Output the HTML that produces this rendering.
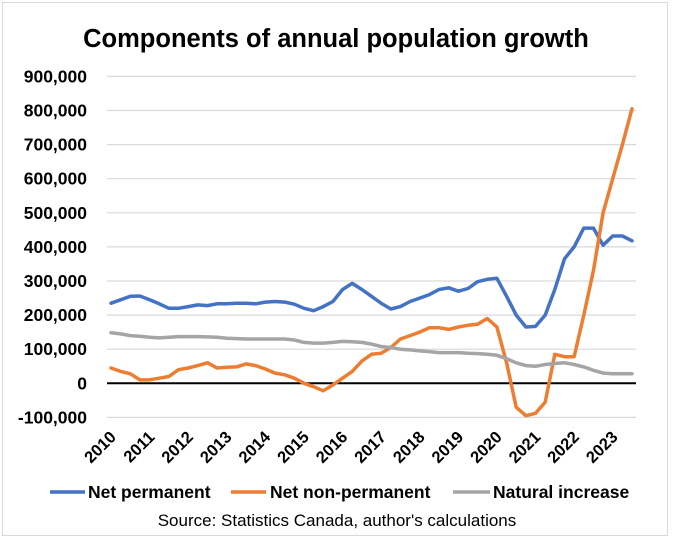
<!DOCTYPE html>
<html><head><meta charset="utf-8">
<style>
html,body{margin:0;padding:0;background:#fff;}
body{width:675px;height:543px;overflow:hidden;position:relative;font-family:"Liberation Sans",sans-serif;}
#frame{position:absolute;left:2px;top:2px;width:666px;height:534px;border:1px solid #d9d9d9;box-sizing:border-box;}
svg{position:absolute;left:0;top:0;}
</style></head><body>
<div id="frame"></div>
<svg id="chart" width="675" height="543">
<text x="336" y="47" text-anchor="middle" font-size="25.5" font-weight="bold" fill="#000">Components of annual population growth</text>
<g id="grid"></g><g id="yticks"></g><g id="xticks"></g><g id="series"></g>
<g>
<g><line x1="50" y1="492" x2="85" y2="492" stroke="#4472C4" stroke-width="3.5"/><text x="88" y="498" font-size="17.5" font-weight="bold">Net permanent</text></g>
<g><line x1="231" y1="492" x2="266" y2="492" stroke="#ED7D31" stroke-width="3.5"/><text x="270" y="498" font-size="17.5" font-weight="bold">Net non-permanent</text></g>
<g><line x1="453" y1="492" x2="490" y2="492" stroke="#A5A5A5" stroke-width="3.5"/><text x="493" y="498" font-size="17.5" font-weight="bold">Natural increase</text></g>
</g>
<text x="337" y="526" text-anchor="middle" font-size="17" fill="#000">Source: Statistics Canada, author's calculations</text>
</svg>
<script>
const years = ["2010","2011","2012","2013","2014","2015","2016","2017","2018","2019","2020","2021","2022","2023"];
const yTicks = [-100000,0,100000,200000,300000,400000,500000,600000,700000,800000,900000];
const netPermanent = [235,245,255,256,245,233,220,220,225,230,228,233,233,235,235,233,238,240,238,232,220,213,225,240,275,293,275,255,235,218,225,240,250,260,275,280,270,278,298,305,308,255,200,165,167,200,275,365,400,455,455,405,432,432,418];
const netNonPermanent = [45,35,28,10,10,15,20,40,45,52,60,45,47,48,57,52,42,30,25,15,0,-10,-22,-5,15,35,65,85,88,105,130,140,150,163,163,158,165,170,173,190,165,60,-70,-95,-88,-55,85,78,78,200,330,500,600,700,805];
const naturalIncrease = [148,145,140,138,135,133,135,137,137,137,136,135,132,131,130,130,130,130,130,127,120,118,118,120,123,122,120,115,108,105,100,98,95,93,90,90,90,88,87,85,82,72,60,52,50,55,58,60,55,48,38,30,28,28,28];

const svg = document.getElementById('chart');
const NS = 'http://www.w3.org/2000/svg';
const X0 = 111, X1 = 632, PL = 107, PR = 636;
const yScale = v => 383.3 - v / 100000 * 34.1;
const xScale = i => X0 + (X1 - X0) * i / (netPermanent.length - 1);
function mk(tag, attrs, parent){const e=document.createElementNS(NS,tag);for(const k in attrs)e.setAttribute(k,attrs[k]);parent.appendChild(e);return e;}
const grid=document.getElementById('grid'), yt=document.getElementById('yticks'), xt=document.getElementById('xticks'), ser=document.getElementById('series');
yTicks.forEach(v=>{
  const y=yScale(v);
  const l=mk('line',{x1:PL,x2:PR,y1:y,y2:y,stroke:v===0?'#000':'#d9d9d9','stroke-width':v===0?2:1.2},grid);
  
  
  const t=mk('text',{x:87,y:y+6,'text-anchor':'end','font-size':17.5,'font-weight':'bold'},yt);
  t.textContent=v.toLocaleString('en-US');
  
  
});
years.forEach((yr,k)=>{
  const x=xScale(k*4)+6, y=438;
  const t=mk('text',{x:x,y:y,'text-anchor':'end','font-size':16.5,'font-weight':'bold',transform:`rotate(-45 ${x} ${y})`},xt);
  t.textContent=yr;
  
  
});
[[netPermanent,'#4472C4','line-net-permanent'],[netNonPermanent,'#ED7D31','line-net-non-permanent'],[naturalIncrease,'#A5A5A5','line-natural-increase']].forEach(([d,c,n])=>{
  const pts=d.map((v,i)=>xScale(i).toFixed(1)+','+yScale(v*1000).toFixed(1)).join(' ');
  const p=mk('polyline',{points:pts,fill:'none',stroke:c,'stroke-width':3.5,'stroke-linejoin':'round','stroke-linecap':'round'},ser);
  
  
});
</script>
</body></html>
